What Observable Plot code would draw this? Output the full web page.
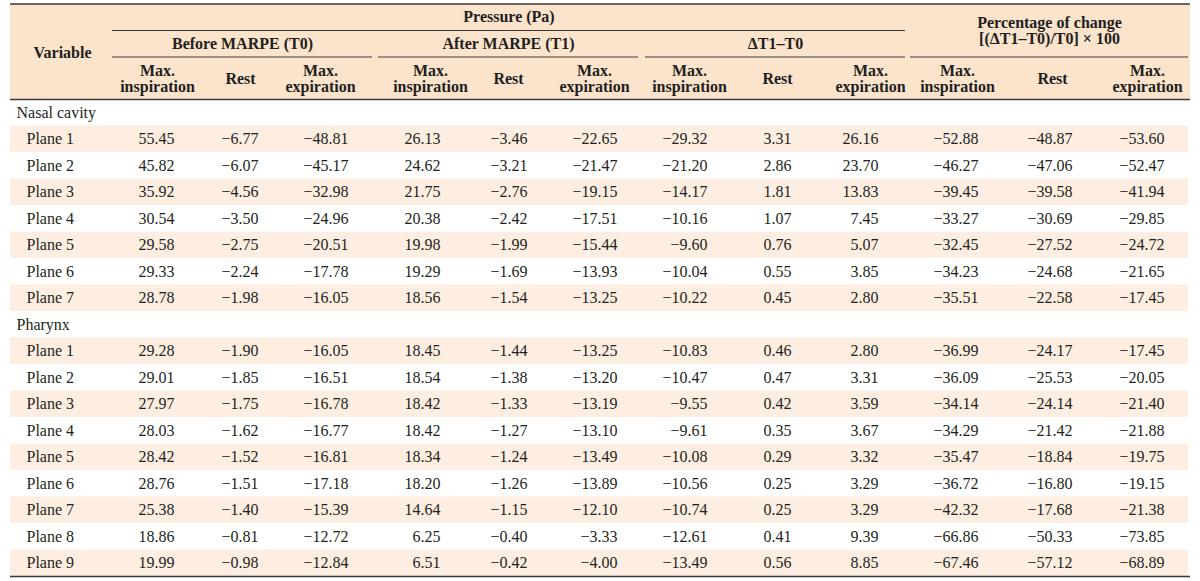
<!DOCTYPE html>
<html>
<head>
<meta charset="utf-8">
<script src="https://cdn.jsdelivr.net/npm/d3@7"></script>
<script src="https://cdn.jsdelivr.net/npm/@observablehq/plot@0.6"></script>
<style>
  html, body { margin: 0; padding: 0; background: #ffffff; }
  #chart { width: 1200px; height: 581px; }
</style>
</head>
<body>
<div id="chart"></div>
<script>
// ---------- Data ----------
const groupNames = ["Nasal cavity", "Pharynx"];
const groupPlanes = [
  ["Plane 1","Plane 2","Plane 3","Plane 4","Plane 5","Plane 6","Plane 7"],
  ["Plane 1","Plane 2","Plane 3","Plane 4","Plane 5","Plane 6","Plane 7","Plane 8","Plane 9"]
];
const topHeader = "Pressure (Pa)";
const subHeaders = ["Before MARPE (T0)", "After MARPE (T1)", "ΔT1–T0"];
const pctHeader = "Percentage of change\n[(ΔT1–T0)/T0] × 100";
const colLabels = ["Max.\ninspiration", "Rest", "Max.\nexpiration"];
const varLabel = "Variable";

// values: 7 nasal cavity rows then 9 pharynx rows
const beforeMaxInsp = [55.45,45.82,35.92,30.54,29.58,29.33,28.78, 29.28,29.01,27.97,28.03,28.42,28.76,25.38,18.86,19.99];
const beforeRest    = [-6.77,-6.07,-4.56,-3.50,-2.75,-2.24,-1.98, -1.90,-1.85,-1.75,-1.62,-1.52,-1.51,-1.40,-0.81,-0.98];
const beforeMaxExp  = [-48.81,-45.17,-32.98,-24.96,-20.51,-17.78,-16.05, -16.05,-16.51,-16.78,-16.77,-16.81,-17.18,-15.39,-12.72,-12.84];
const afterMaxInsp  = [26.13,24.62,21.75,20.38,19.98,19.29,18.56, 18.45,18.54,18.42,18.42,18.34,18.20,14.64,6.25,6.51];
const afterRest     = [-3.46,-3.21,-2.76,-2.42,-1.99,-1.69,-1.54, -1.44,-1.38,-1.33,-1.27,-1.24,-1.26,-1.15,-0.40,-0.42];
const afterMaxExp   = [-22.65,-21.47,-19.15,-17.51,-15.44,-13.93,-13.25, -13.25,-13.20,-13.19,-13.10,-13.49,-13.89,-12.10,-3.33,-4.00];
const deltaMaxInsp  = [-29.32,-21.20,-14.17,-10.16,-9.60,-10.04,-10.22, -10.83,-10.47,-9.55,-9.61,-10.08,-10.56,-10.74,-12.61,-13.49];
const deltaRest     = [3.31,2.86,1.81,1.07,0.76,0.55,0.45, 0.46,0.47,0.42,0.35,0.29,0.25,0.25,0.41,0.56];
const deltaMaxExp   = [26.16,23.70,13.83,7.45,5.07,3.85,2.80, 2.80,3.31,3.59,3.67,3.32,3.29,3.29,9.39,8.85];
const pctMaxInsp    = [-52.88,-46.27,-39.45,-33.27,-32.45,-34.23,-35.51, -36.99,-36.09,-34.14,-34.29,-35.47,-36.72,-42.32,-66.86,-67.46];
const pctRest       = [-48.87,-47.06,-39.58,-30.69,-27.52,-24.68,-22.58, -24.17,-25.53,-24.14,-21.42,-18.84,-16.80,-17.68,-50.33,-57.12];
const pctMaxExp     = [-53.60,-52.47,-41.94,-29.85,-24.72,-21.65,-17.45, -17.45,-20.05,-21.40,-21.88,-19.75,-19.15,-21.38,-73.85,-68.89];

const valueColumns = [beforeMaxInsp, beforeRest, beforeMaxExp, afterMaxInsp, afterRest, afterMaxExp,
                      deltaMaxInsp, deltaRest, deltaMaxExp, pctMaxInsp, pctRest, pctMaxExp];

// ---------- Layout (table geometry in scale units) ----------
const tableLeft = 10, tableRight = 1190, tableTop = 3.5;
const headerRowHeights = [26.5, 26.5, 42.5];
const bodyRowHeight = 26.5;
const varColRight = 112;
const colCenters = [157, 240, 320, 430, 508, 594, 689, 777, 870, 957, 1052, 1147];
const colRights  = [174, 258, 348, 440, 527, 617, 707, 791, 878, 978, 1072, 1164];
const groupSpans = [[112, 372], [378, 638], [645, 905], [910, 1188]];
const labelIndentGroup = 6, labelIndentPlane = 16;

const hY0 = tableTop;
const hY1 = hY0 + headerRowHeights[0];
const hY2 = hY1 + headerRowHeights[1];
const hY3 = hY2 + headerRowHeights[2];

// ---------- Build body rows ----------
const bodyRows = [];
let vi = 0;
groupNames.forEach((g, gi) => {
  bodyRows.push({kind: "group", label: g});
  groupPlanes[gi].forEach((p, pi) => {
    bodyRows.push({kind: "plane", label: p, shaded: pi % 2 === 0, vi: vi++});
  });
});
bodyRows.forEach((r, i) => {
  r.y1 = hY3 + i * bodyRowHeight;
  r.y2 = r.y1 + bodyRowHeight;
  r.ym = (r.y1 + r.y2) / 2;
});
const tableBottom = bodyRows[bodyRows.length - 1].y2;

const fmt = d3.format(".2f");
const cells = [];
bodyRows.filter(r => r.kind === "plane").forEach(r => {
  valueColumns.forEach((col, c) => {
    cells.push({x: colRights[c], y: r.ym, text: fmt(col[r.vi])});
  });
});

const colHeaderCells = colCenters.map((x, c) => ({x, y: (hY2 + hY3) / 2 + 1, text: colLabels[c % 3]}));
const subHeaderCells = subHeaders.map((t, i) => ({x: (groupSpans[i][0] + groupSpans[i][1]) / 2, y: (hY1 + hY2) / 2 + 0.5, text: t}));

const headerFill = "#fbe3cc";
const stripeFill = "#fdeee1";
const ink = "#231f20";
const lineColor = "#3a3a3a";
const serif = "'Liberation Serif', 'Times New Roman', serif";

const chart = Plot.plot({
  width: 1200,
  height: 581,
  margin: 0,
  x: {type: "linear", domain: [0, 1200], range: [0, 1200], axis: null},
  y: {type: "linear", domain: [0, 581], range: [0, 581], axis: null},
  style: {fontFamily: serif, fontSize: "16px", color: ink, background: "#ffffff"},
  marks: [
    // header background
    Plot.rect([{x1: tableLeft, x2: tableRight, y1: hY0, y2: hY3}], {x1: "x1", x2: "x2", y1: "y1", y2: "y2", fill: headerFill}),
    // body stripes
    Plot.rect(bodyRows.filter(r => r.shaded), {x1: () => tableLeft, x2: () => tableRight - 2, y1: "y1", y2: "y2", fill: stripeFill}),
    // horizontal rules
    Plot.ruleY([hY0, hY3, tableBottom], {x1: tableLeft, x2: tableRight, stroke: lineColor, strokeWidth: 1.6}),
    Plot.ruleY([hY1], {x1: groupSpans[0][0], x2: groupSpans[2][1], stroke: lineColor, strokeWidth: 1.1}),
    Plot.ruleY(groupSpans, {y: () => hY2, x1: d => d[0], x2: d => d[1], stroke: lineColor, strokeWidth: 1.1}),
    // header texts
    Plot.text([varLabel], {x: () => (tableLeft + varColRight) / 2 + 1, y: () => (hY0 + hY3) / 2 + 1, text: d => d, fontWeight: "bold", fontSize: 16}),
    Plot.text([topHeader], {x: () => (groupSpans[0][0] + groupSpans[2][1]) / 2, y: () => (hY0 + hY1) / 2, text: d => d, fontWeight: "bold", fontSize: 16}),
    Plot.text(subHeaderCells, {x: "x", y: "y", text: "text", fontWeight: "bold", fontSize: 16}),
    Plot.text([pctHeader], {x: () => (groupSpans[3][0] + groupSpans[3][1]) / 2, y: () => (hY0 + hY2) / 2, text: d => d, fontWeight: "bold", fontSize: 16, lineHeight: 1.04}),
    Plot.text(colHeaderCells, {x: "x", y: "y", text: "text", fontWeight: "bold", fontSize: 16, lineHeight: 1.0}),
    // body row labels
    Plot.text(bodyRows, {
      x: r => tableLeft + (r.kind === "group" ? labelIndentGroup : labelIndentPlane),
      y: "ym", text: "label", textAnchor: "start", fontSize: 16
    }),
    // body values
    Plot.text(cells, {x: "x", y: "y", text: "text", textAnchor: "end", fontSize: 16})
  ]
});
document.getElementById("chart").appendChild(chart);
</script>
</body>
</html>
